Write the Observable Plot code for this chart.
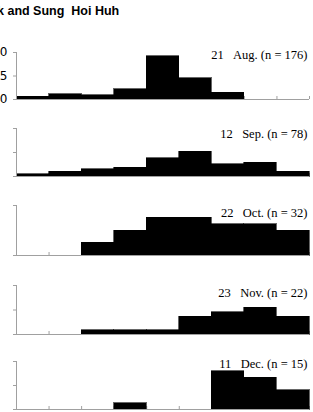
<!DOCTYPE html>
<html>
<head>
<meta charset="utf-8">
<script src="https://cdn.jsdelivr.net/npm/d3@7"></script>
<script src="https://cdn.jsdelivr.net/npm/@observablehq/plot@0.6"></script>
<style>
  html, body { margin: 0; padding: 0; background: #fff; }
  #wrap { position: relative; width: 313px; height: 412px; overflow: hidden; background: #fff; }
  #title { position: absolute; left: -3px; top: 4px; font: bold 12.5px "Liberation Sans", Arial, sans-serif; line-height: 14px; white-space: pre; color: #000; }
  .panel { position: absolute; left: 0; }
</style>
</head>
<body>
<div id="wrap">
  <div id="title">k and Sung  Hoi Huh</div>
</div>
<script>
// ---- data ----
const titleText = "k and Sung  Hoi Huh";
const panelLabels = [
  "21\u00a0\u00a0\u00a0Aug. (n = 176)",
  "12\u00a0\u00a0\u00a0Sep. (n = 78)",
  "22\u00a0\u00a0\u00a0Oct. (n = 32)",
  "23\u00a0\u00a0\u00a0Nov. (n = 22)",
  "11\u00a0\u00a0\u00a0Dec. (n = 15)"
];
const binIndex = [0, 1, 2, 3, 4, 5, 6, 7, 8];
const augValues = [2.8, 5.7, 4.5, 10.8, 46.0, 22.7, 7.4, 0, 0];
const sepValues = [2.6, 5.1, 7.7, 9.0, 19.2, 25.6, 12.8, 14.1, 5.1];
const octValues = [0, 0, 6.3, 12.5, 18.8, 18.8, 15.6, 15.6, 12.5];
const novValues = [0, 0, 4.5, 4.5, 4.5, 18.2, 22.7, 27.3, 18.2];
const decValues = [0, 0, 0, 6.7, 0, 0, 40.0, 33.3, 20.0];
const yTicksDefault = [0, 25, 50];
const yTicksOct = [0, 25];
const tickLabelsShown = [true, false, false, false, false];

// ---- layout (pixel positions of top tick and baseline per panel) ----
const layout = [
  {top: 52, base: 99},
  {top: 128, base: 176},
  {top: 205, base: 255},
  {top: 285, base: 334},
  {top: 361, base: 409}
];
const labelDy = [2, 5, 7, 7, 2];

const series = [augValues, sepValues, octValues, novValues, decValues];
const yTicks = [yTicksDefault, yTicksDefault, yTicksOct, yTicksDefault, yTicksDefault];

document.getElementById("title").textContent = titleText;
const wrap = document.getElementById("wrap");
const gray = "#a0a0a0";
const mT = 4, mB = 4;

series.forEach((vals, i) => {
  const L = layout[i];
  const inner = L.base - L.top;
  const ymax = d3.max(yTicks[i]);
  const data = binIndex.map((b, k) => ({x1: b, x2: b + 1, y: vals[k]})).filter(d => d.y > 0);
  const bounds = binIndex.map(b => b + 1);
  const chart = Plot.plot({
    width: 313,
    height: inner + mT + mB,
    marginLeft: 16,
    marginRight: 4,
    marginTop: mT,
    marginBottom: mB,
    x: {domain: [0, 9], axis: null},
    y: {domain: [0, ymax], axis: null},
    style: {background: "transparent", overflow: "visible"},
    marks: [
      Plot.ruleX(bounds, {x: d => d, insetTop: inner - 3, stroke: gray, strokeWidth: 1}),
      Plot.rectY(data, {x1: "x1", x2: "x2", y: "y", fill: "#000", stroke: "#000", strokeWidth: 0.6, inset: 0, shapeRendering: "crispEdges"}),
      Plot.ruleY([0], {stroke: gray, strokeWidth: 1}),
      Plot.ruleX([0], {y1: 0, y2: ymax, stroke: gray, strokeWidth: 1}),
      Plot.axisY({
        ticks: yTicks[i],
        label: null,
        tickSize: 3,
        tickPadding: 6,
        stroke: gray,
        fill: "#000",
        fontSize: 12,
        fontFamily: "'DejaVu Sans', Verdana, sans-serif",
        tickFormat: d => tickLabelsShown[i] ? String(d) : ""
      }),
      Plot.text([panelLabels[i]], {
        text: d => d,
        frameAnchor: "top-right",
        textAnchor: "end",
        lineAnchor: "middle",
        dx: -2,
        dy: labelDy[i],
        fontSize: 12.5,
        fontFamily: "'Liberation Serif', 'Times New Roman', serif",
        fill: "#000"
      })
    ]
  });
  chart.classList.add("panel");
  chart.style.top = (L.top - mT) + "px";
  wrap.appendChild(chart);
});
</script>
</body>
</html>
